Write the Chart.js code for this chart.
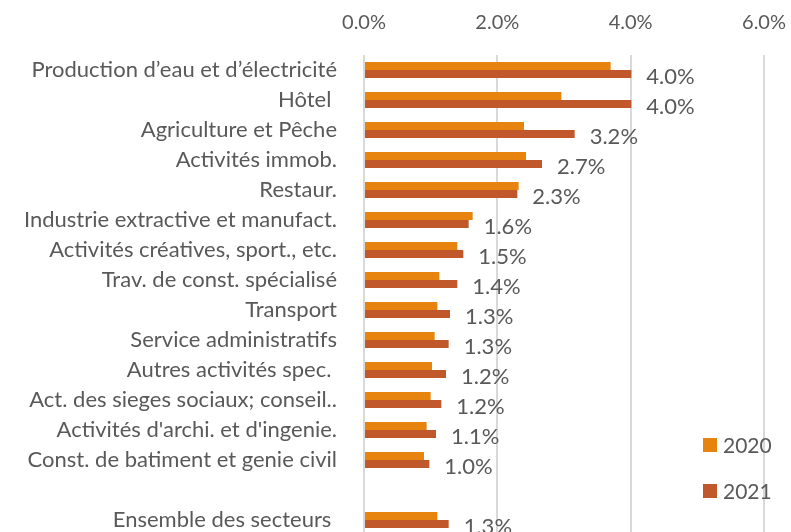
<!DOCTYPE html>
<html>
<head>
<meta charset="utf-8">
<script src="https://cdn.jsdelivr.net/npm/chart.js@4/dist/chart.umd.min.js"></script>
<style>
    html, body { margin: 0; padding: 0; background: #fff; overflow: hidden; }
    canvas { display: block; }
</style>
</head>
<body>
<canvas id="chart" width="791" height="535"></canvas>
<script>
// sectors, top to bottom (empty entry is the gap before the total)
const sectors = [
    'Production d\u2019eau et d\u2019électricité',
    'Hôtel ',
    'Agriculture et Pêche',
    'Activités immob.',
    'Restaur.',
    'Industrie extractive et manufact.',
    'Activités créatives, sport., etc.',
    'Trav. de const. spécialisé',
    'Transport',
    'Service administratifs',
    'Autres activités spec. ',
    'Act. des sieges sociaux; conseil..',
    'Activités d\'archi. et d\'ingenie.',
    'Const. de batiment et genie civil',
    '',
    'Ensemble des secteurs '
];

// growth rates in percent
const values2020 = [3.70, 2.96, 2.40, 2.43, 2.32, 1.63, 1.40, 1.13, 1.10, 1.06, 1.02, 1.00, 0.94, 0.90, null, 1.10];
const values2021 = [4.01, 4.01, 3.16, 2.67, 2.30, 1.57, 1.49, 1.40, 1.29, 1.27, 1.23, 1.16, 1.08, 0.98, null, 1.27];

// x axis ticks
const tickValues = [0, 2, 4, 6];

const textColor = '#595959';
const fontName = 'Lato, "Open Sans", sans-serif';

// value labels to the right of the 2021 bars
const valueLabels = {
    id: 'valueLabels',
    afterDatasetsDraw(chart) {
        const ctx = chart.ctx;
        const meta = chart.getDatasetMeta(1);
        ctx.save();
        ctx.font = '22px ' + fontName;
        ctx.fillStyle = textColor;
        ctx.textAlign = 'left';
        ctx.textBaseline = 'middle';
        meta.data.forEach((bar, i) => {
            const v = values2021[i];
            if (v === null) {
                return;
            }
            ctx.fillText(v.toFixed(1) + '%', bar.x + 15, bar.y + 3);
        });
        ctx.restore();
    }
};

// legend sitting in the lower right of the plot
const boxLegend = {
    id: 'boxLegend',
    afterDraw(chart) {
        const ctx = chart.ctx;
        const x = 703;
        const rows = [445, 491];
        ctx.save();
        ctx.font = '21px ' + fontName;
        ctx.textAlign = 'left';
        ctx.textBaseline = 'middle';
        chart.data.datasets.forEach((ds, i) => {
            ctx.fillStyle = ds.backgroundColor;
            ctx.fillRect(x, rows[i] - 7, 14, 14);
            ctx.fillStyle = textColor;
            ctx.fillText(ds.label, x + 20, rows[i] + 1);
        });
        ctx.restore();
    }
};

new Chart(document.getElementById('chart'), {
    type: 'bar',
    data: {
        labels: sectors,
        datasets: [
            { label: '2020', data: values2020, backgroundColor: '#E6840F' },
            { label: '2021', data: values2021, backgroundColor: '#C0582B' }
        ]
    },
    options: {
        indexAxis: 'y',
        responsive: false,
        animation: false,
        layout: { padding: { top: 0, right: 27, bottom: 0, left: 0 } },
        datasets: { bar: { categoryPercentage: 0.53, barPercentage: 1 } },
        plugins: {
            legend: { display: false },
            tooltip: { enabled: false }
        },
        scales: {
            x: {
                position: 'top',
                min: 0,
                max: 6,
                afterFit: (s) => {
                    s.height = 55;
                    s.paddingLeft = 0;
                    s.paddingRight = 0;
                },
                afterBuildTicks: (s) => { s.ticks = tickValues.map((v) => ({ value: v })); },
                ticks: {
                    color: textColor,
                    font: { family: fontName, size: 20 },
                    padding: 20,
                    callback: (v) => v.toFixed(1) + '%'
                },
                grid: { color: '#D9D9D9', lineWidth: 2, drawTicks: false },
                border: { display: false }
            },
            y: {
                afterFit: (s) => {
                    s.width = 364;
                    s.paddingTop = 0;
                    s.paddingBottom = 0;
                },
                ticks: {
                    color: textColor,
                    font: { family: fontName, size: 22 },
                    padding: 27,
                    autoSkip: false
                },
                grid: { display: false, drawTicks: false },
                border: { display: false }
            }
        }
    },
    plugins: [valueLabels, boxLegend]
});
</script>
</body>
</html>
